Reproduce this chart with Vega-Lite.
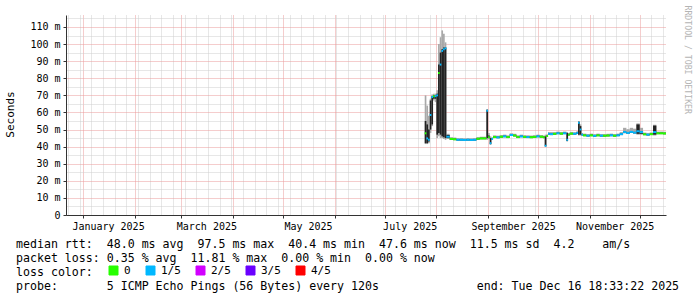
{
  "$schema": "https://vega.github.io/schema/vega-lite/v6.json",
  "width": 600,
  "height": 200,
  "autosize": {"type": "none"},
  "padding": {"left": 66, "top": 15, "right": 31, "bottom": 82},
  "background": "#ffffff",
  "config": {"view": {"stroke": null}, "axis": {"gridDash": [1, 1], "gridCap": "butt"}},
  "title": {
    "text": [
      "median rtt:\u00a0\u00a048.0 ms avg\u00a0\u00a097.5 ms max\u00a0\u00a040.4 ms min\u00a0\u00a047.6 ms now\u00a0\u00a011.5 ms sd\u00a0\u00a04.2\u00a0\u00a0\u00a0\u00a0am/s",
      "packet loss: 0.35 % avg\u00a0\u00a011.81 % max\u00a0\u00a00.00 % min\u00a0\u00a00.00 % now",
      "loss color:",
      "probe:\u00a0\u00a0\u00a0\u00a0\u00a0\u00a0\u00a05 ICMP Echo Pings (56 Bytes) every 120s\u00a0\u00a0\u00a0\u00a0\u00a0\u00a0\u00a0\u00a0\u00a0\u00a0\u00a0\u00a0\u00a0\u00a0end: Tue Dec 16 18:33:22 2025"
    ],
    "orient": "bottom",
    "anchor": "start",
    "frame": "group",
    "dx": -50,
    "dy": -42,
    "offset": 4,
    "lineHeight": 14,
    "font": "DejaVu Sans Mono",
    "fontSize": 11.6,
    "fontWeight": "normal",
    "color": "#000000"
  },
  "data": {
    "values": [
      {"t":"2025-07-25T00:00:00","t2":"2025-07-26T00:00:00","med":47.8,"loss":"0","lo":41.5,"hi":70,"dlo":42,"dhi":55},
      {"t":"2025-07-26T00:00:00","t2":"2025-07-27T00:00:00","med":44.8,"loss":"1/5","lo":41.5,"hi":64,"dlo":42,"dhi":53},
      {"t":"2025-07-27T00:00:00","t2":"2025-07-28T00:00:00","med":44,"loss":"1/5","lo":42,"hi":58,"dlo":43,"dhi":50},
      {"t":"2025-07-28T00:00:00","t2":"2025-07-29T00:00:00","med":58.5,"loss":"1/5","lo":48,"hi":68,"dlo":50,"dhi":67},
      {"t":"2025-07-29T00:00:00","t2":"2025-07-30T00:00:00","med":69,"loss":"1/5","lo":52,"hi":70.5,"dlo":53,"dhi":69.5},
      {"t":"2025-07-30T00:00:00","t2":"2025-07-31T00:00:00","med":69.5,"loss":"0","lo":67,"hi":71,"dlo":68,"dhi":70},
      {"t":"2025-07-31T00:00:00","t2":"2025-08-01T00:00:00","med":69.5,"loss":"1/5","lo":66,"hi":71,"dlo":68,"dhi":70},
      {"t":"2025-08-01T00:00:00","t2":"2025-08-02T00:00:00","med":70,"loss":"1/5","lo":45,"hi":73,"dlo":47,"dhi":71},
      {"t":"2025-08-02T00:00:00","t2":"2025-08-03T00:00:00","med":83,"loss":"0","lo":46,"hi":100,"dlo":48,"dhi":88},
      {"t":"2025-08-03T00:00:00","t2":"2025-08-04T00:00:00","med":88,"loss":"1/5","lo":45,"hi":104,"dlo":47,"dhi":95},
      {"t":"2025-08-04T00:00:00","t2":"2025-08-05T00:00:00","med":96,"loss":"1/5","lo":45,"hi":108,"dlo":46,"dhi":97},
      {"t":"2025-08-05T00:00:00","t2":"2025-08-06T00:00:00","med":97,"loss":"1/5","lo":44.5,"hi":106,"dlo":45.5,"dhi":98},
      {"t":"2025-08-06T00:00:00","t2":"2025-08-07T00:00:00","med":97.5,"loss":"1/5","lo":44,"hi":101,"dlo":45,"dhi":98},
      {"t":"2025-08-07T00:00:00","t2":"2025-08-09T00:00:00","med":45.8,"loss":"1/5","lo":44.5,"hi":47.5,"dlo":45,"dhi":46.8},
      {"t":"2025-08-09T00:00:00","t2":"2025-08-11T00:00:00","med":44.5,"loss":"0","lo":43.9,"hi":45.5,"dlo":44.1,"dhi":44.9},
      {"t":"2025-08-11T00:00:00","t2":"2025-08-13T00:00:00","med":44.3,"loss":"0","lo":43.7,"hi":45.3,"dlo":43.9,"dhi":44.7},
      {"t":"2025-08-13T00:00:00","t2":"2025-08-15T00:00:00","med":44,"loss":"1/5","lo":43.4,"hi":45,"dlo":43.6,"dhi":44.4},
      {"t":"2025-08-15T00:00:00","t2":"2025-08-17T00:00:00","med":44,"loss":"1/5","lo":43.4,"hi":45,"dlo":43.6,"dhi":44.4},
      {"t":"2025-08-17T00:00:00","t2":"2025-08-19T00:00:00","med":43.9,"loss":"1/5","lo":43.3,"hi":44.9,"dlo":43.5,"dhi":44.3},
      {"t":"2025-08-19T00:00:00","t2":"2025-08-21T00:00:00","med":44,"loss":"1/5","lo":43.4,"hi":45,"dlo":43.6,"dhi":44.4},
      {"t":"2025-08-21T00:00:00","t2":"2025-08-23T00:00:00","med":43.9,"loss":"1/5","lo":43.3,"hi":44.9,"dlo":43.5,"dhi":44.3},
      {"t":"2025-08-23T00:00:00","t2":"2025-08-25T00:00:00","med":44,"loss":"1/5","lo":43.4,"hi":45,"dlo":43.6,"dhi":44.4},
      {"t":"2025-08-25T00:00:00","t2":"2025-08-27T00:00:00","med":44.6,"loss":"0","lo":44,"hi":45.6,"dlo":44.2,"dhi":45},
      {"t":"2025-08-27T00:00:00","t2":"2025-08-29T00:00:00","med":44.8,"loss":"0","lo":44.2,"hi":45.8,"dlo":44.4,"dhi":45.2},
      {"t":"2025-08-29T00:00:00","t2":"2025-08-31T00:00:00","med":44.8,"loss":"0","lo":44.2,"hi":45.8,"dlo":44.4,"dhi":45.2},
      {"t":"2025-08-31T00:00:00","t2":"2025-09-01T00:00:00","med":61,"loss":"1/5","lo":44,"hi":62,"dlo":45,"dhi":61.5},
      {"t":"2025-09-01T00:00:00","t2":"2025-09-02T00:00:00","med":45.5,"loss":"0","lo":44.5,"hi":48,"dlo":45,"dhi":46.5},
      {"t":"2025-09-02T00:00:00","t2":"2025-09-03T00:00:00","med":42,"loss":"1/5","lo":41,"hi":46,"dlo":41.5,"dhi":45},
      {"t":"2025-09-03T00:00:00","t2":"2025-09-04T00:00:00","med":44.5,"loss":"1/5","lo":43.9,"hi":45.5,"dlo":44.1,"dhi":44.9},
      {"t":"2025-09-04T00:00:00","t2":"2025-09-06T00:00:00","med":45.6,"loss":"0","lo":45,"hi":46.6,"dlo":45.2,"dhi":46},
      {"t":"2025-09-06T00:00:00","t2":"2025-09-08T00:00:00","med":45.4,"loss":"1/5","lo":44.8,"hi":46.4,"dlo":45,"dhi":45.8},
      {"t":"2025-09-08T00:00:00","t2":"2025-09-10T00:00:00","med":45.8,"loss":"0","lo":45.2,"hi":46.8,"dlo":45.4,"dhi":46.2},
      {"t":"2025-09-10T00:00:00","t2":"2025-09-12T00:00:00","med":46,"loss":"1/5","lo":45.4,"hi":47,"dlo":45.6,"dhi":46.4},
      {"t":"2025-09-12T00:00:00","t2":"2025-09-14T00:00:00","med":45.6,"loss":"0","lo":45,"hi":46.6,"dlo":45.2,"dhi":46},
      {"t":"2025-09-14T00:00:00","t2":"2025-09-16T00:00:00","med":46.8,"loss":"1/5","lo":46.2,"hi":47.8,"dlo":46.4,"dhi":47.2},
      {"t":"2025-09-16T00:00:00","t2":"2025-09-18T00:00:00","med":46.5,"loss":"0","lo":45.9,"hi":47.5,"dlo":46.1,"dhi":46.9},
      {"t":"2025-09-18T00:00:00","t2":"2025-09-20T00:00:00","med":45.6,"loss":"0","lo":45,"hi":46.6,"dlo":45.2,"dhi":46},
      {"t":"2025-09-20T00:00:00","t2":"2025-09-22T00:00:00","med":46,"loss":"1/5","lo":45.4,"hi":47,"dlo":45.6,"dhi":46.4},
      {"t":"2025-09-22T00:00:00","t2":"2025-09-24T00:00:00","med":45.7,"loss":"0","lo":45.1,"hi":46.7,"dlo":45.3,"dhi":46.1},
      {"t":"2025-09-24T00:00:00","t2":"2025-09-26T00:00:00","med":45.6,"loss":"1/5","lo":45,"hi":46.6,"dlo":45.2,"dhi":46},
      {"t":"2025-09-26T00:00:00","t2":"2025-09-28T00:00:00","med":45.5,"loss":"0","lo":44.9,"hi":46.5,"dlo":45.1,"dhi":45.9},
      {"t":"2025-09-28T00:00:00","t2":"2025-09-30T00:00:00","med":45.7,"loss":"0","lo":45.1,"hi":46.7,"dlo":45.3,"dhi":46.1},
      {"t":"2025-09-30T00:00:00","t2":"2025-10-02T00:00:00","med":46,"loss":"1/5","lo":45.4,"hi":47,"dlo":45.6,"dhi":46.4},
      {"t":"2025-10-02T00:00:00","t2":"2025-10-04T00:00:00","med":45.8,"loss":"0","lo":45.2,"hi":46.8,"dlo":45.4,"dhi":46.2},
      {"t":"2025-10-04T00:00:00","t2":"2025-10-05T00:00:00","med":45.5,"loss":"0","lo":44.9,"hi":46.5,"dlo":45.1,"dhi":45.9},
      {"t":"2025-10-05T00:00:00","t2":"2025-10-06T00:00:00","med":40.5,"loss":"1/5","lo":40,"hi":47,"dlo":40.2,"dhi":46},
      {"t":"2025-10-06T00:00:00","t2":"2025-10-07T00:00:00","med":46.2,"loss":"0","lo":45.6,"hi":47.2,"dlo":45.8,"dhi":46.6},
      {"t":"2025-10-07T00:00:00","t2":"2025-10-08T00:00:00","med":47.5,"loss":"1/5","lo":46.9,"hi":48.5,"dlo":47.1,"dhi":47.9},
      {"t":"2025-10-08T00:00:00","t2":"2025-10-10T00:00:00","med":47.3,"loss":"1/5","lo":46.7,"hi":48.5,"dlo":46.9,"dhi":47.7},
      {"t":"2025-10-10T00:00:00","t2":"2025-10-12T00:00:00","med":47.5,"loss":"0","lo":46.9,"hi":48.5,"dlo":47.1,"dhi":47.9},
      {"t":"2025-10-12T00:00:00","t2":"2025-10-14T00:00:00","med":47.8,"loss":"1/5","lo":47.2,"hi":48.8,"dlo":47.4,"dhi":48.2},
      {"t":"2025-10-14T00:00:00","t2":"2025-10-16T00:00:00","med":47.6,"loss":"0","lo":47,"hi":48.6,"dlo":47.2,"dhi":48},
      {"t":"2025-10-16T00:00:00","t2":"2025-10-18T00:00:00","med":47.8,"loss":"1/5","lo":47.2,"hi":48.8,"dlo":47.4,"dhi":48.2},
      {"t":"2025-10-18T00:00:00","t2":"2025-10-19T00:00:00","med":44,"loss":"1/5","lo":43,"hi":48.5,"dlo":43.3,"dhi":48},
      {"t":"2025-10-19T00:00:00","t2":"2025-10-20T00:00:00","med":47,"loss":"0","lo":46.4,"hi":48,"dlo":46.6,"dhi":47.4},
      {"t":"2025-10-20T00:00:00","t2":"2025-10-22T00:00:00","med":47.6,"loss":"0","lo":47,"hi":48.6,"dlo":47.2,"dhi":48},
      {"t":"2025-10-22T00:00:00","t2":"2025-10-24T00:00:00","med":47.5,"loss":"1/5","lo":46.9,"hi":48.5,"dlo":47.1,"dhi":47.9},
      {"t":"2025-10-24T00:00:00","t2":"2025-10-25T00:00:00","med":48,"loss":"1/5","lo":47.4,"hi":49,"dlo":47.6,"dhi":48.4},
      {"t":"2025-10-25T00:00:00","t2":"2025-10-26T00:00:00","med":54,"loss":"1/5","lo":46.5,"hi":55,"dlo":47,"dhi":54.5},
      {"t":"2025-10-26T00:00:00","t2":"2025-10-27T00:00:00","med":50,"loss":"1/5","lo":46.5,"hi":53,"dlo":47,"dhi":52},
      {"t":"2025-10-27T00:00:00","t2":"2025-10-28T00:00:00","med":47,"loss":"1/5","lo":46.4,"hi":48,"dlo":46.6,"dhi":47.4},
      {"t":"2025-10-28T00:00:00","t2":"2025-10-30T00:00:00","med":46.6,"loss":"0","lo":46,"hi":47.6,"dlo":46.2,"dhi":47},
      {"t":"2025-10-30T00:00:00","t2":"2025-11-01T00:00:00","med":46.4,"loss":"1/5","lo":45.8,"hi":47.4,"dlo":46,"dhi":46.8},
      {"t":"2025-11-01T00:00:00","t2":"2025-11-03T00:00:00","med":46.6,"loss":"0","lo":46,"hi":47.6,"dlo":46.2,"dhi":47},
      {"t":"2025-11-03T00:00:00","t2":"2025-11-05T00:00:00","med":46.3,"loss":"1/5","lo":45.7,"hi":47.3,"dlo":45.9,"dhi":46.7},
      {"t":"2025-11-05T00:00:00","t2":"2025-11-07T00:00:00","med":46.6,"loss":"0","lo":46,"hi":47.6,"dlo":46.2,"dhi":47},
      {"t":"2025-11-07T00:00:00","t2":"2025-11-09T00:00:00","med":46.4,"loss":"1/5","lo":45.8,"hi":47.4,"dlo":46,"dhi":46.8},
      {"t":"2025-11-09T00:00:00","t2":"2025-11-11T00:00:00","med":46.4,"loss":"0","lo":45.8,"hi":47.4,"dlo":46,"dhi":46.8},
      {"t":"2025-11-11T00:00:00","t2":"2025-11-13T00:00:00","med":46.5,"loss":"0","lo":45.9,"hi":47.5,"dlo":46.1,"dhi":46.9},
      {"t":"2025-11-13T00:00:00","t2":"2025-11-15T00:00:00","med":46.6,"loss":"1/5","lo":46,"hi":47.6,"dlo":46.2,"dhi":47},
      {"t":"2025-11-15T00:00:00","t2":"2025-11-17T00:00:00","med":46.4,"loss":"0","lo":45.8,"hi":47.4,"dlo":46,"dhi":46.8},
      {"t":"2025-11-17T00:00:00","t2":"2025-11-19T00:00:00","med":46.6,"loss":"1/5","lo":46,"hi":47.6,"dlo":46.2,"dhi":47},
      {"t":"2025-11-19T00:00:00","t2":"2025-11-21T00:00:00","med":47.3,"loss":"1/5","lo":46.7,"hi":48.5,"dlo":46.9,"dhi":47.7},
      {"t":"2025-11-21T00:00:00","t2":"2025-11-23T00:00:00","med":48.5,"loss":"1/5","lo":47.8,"hi":51,"dlo":48.1,"dhi":48.9},
      {"t":"2025-11-23T00:00:00","t2":"2025-11-25T00:00:00","med":48,"loss":"1/5","lo":47.4,"hi":50.2,"dlo":47.6,"dhi":48.4},
      {"t":"2025-11-25T00:00:00","t2":"2025-11-27T00:00:00","med":48.6,"loss":"1/5","lo":48,"hi":51,"dlo":48.2,"dhi":49},
      {"t":"2025-11-27T00:00:00","t2":"2025-11-29T00:00:00","med":48.2,"loss":"1/5","lo":47.6,"hi":50.5,"dlo":47.8,"dhi":48.6},
      {"t":"2025-11-29T00:00:00","t2":"2025-12-01T00:00:00","med":49,"loss":"1/5","lo":47,"hi":53.6,"dlo":47.5,"dhi":53},
      {"t":"2025-12-01T00:00:00","t2":"2025-12-03T00:00:00","med":48.5,"loss":"1/5","lo":47,"hi":51,"dlo":47.5,"dhi":49},
      {"t":"2025-12-03T00:00:00","t2":"2025-12-05T00:00:00","med":47.2,"loss":"0","lo":46.6,"hi":48.2,"dlo":46.8,"dhi":47.6},
      {"t":"2025-12-05T00:00:00","t2":"2025-12-07T00:00:00","med":47,"loss":"1/5","lo":46.4,"hi":48,"dlo":46.6,"dhi":47.4},
      {"t":"2025-12-07T00:00:00","t2":"2025-12-09T00:00:00","med":47.3,"loss":"0","lo":46.7,"hi":48.3,"dlo":46.9,"dhi":47.7},
      {"t":"2025-12-09T00:00:00","t2":"2025-12-11T00:00:00","med":48.5,"loss":"1/5","lo":46.5,"hi":52.8,"dlo":47,"dhi":52.3},
      {"t":"2025-12-11T00:00:00","t2":"2025-12-13T00:00:00","med":47.8,"loss":"0","lo":47.2,"hi":48.8,"dlo":47.4,"dhi":48.2},
      {"t":"2025-12-13T00:00:00","t2":"2025-12-15T00:00:00","med":47.8,"loss":"0","lo":47.2,"hi":48.8,"dlo":47.4,"dhi":48.2},
      {"t":"2025-12-15T00:00:00","t2":"2025-12-17T00:00:00","med":47.7,"loss":"0","lo":47.1,"hi":48.7,"dlo":47.3,"dhi":48.1}
    ]
  },
  "resolve": {"axis": {"y": "independent"}},
  "layer": [
    {
      "mark": {"type": "rect", "color": "#a8a8a8", "clip": true},
      "encoding": {
        "x": {
          "field": "t", "type": "temporal",
          "scale": {"domain": [
            {"year": 2024, "month": 12, "date": 21, "hours": 18, "minutes": 33, "seconds": 22},
            {"year": 2025, "month": 12, "date": 16, "hours": 18, "minutes": 33, "seconds": 22}
          ]},
          "axis": {
            "title": null,
            "tickCount": {"interval": "day", "step": 1},
            "labelExpr": "date(datum.value) == 1 && month(datum.value) % 2 == 0 ? timeFormat(datum.value, '%B %Y') : ''",
            "labelOverlap": false,
            "labelBound": false,
            "labelFlush": false,
            "labelOffset": 25,
            "labelAlign": "center",
            "labelBaseline": "top",
            "labelPadding": 3,
            "labelFont": "DejaVu Sans Mono",
            "labelFontSize": 10,
            "labelColor": "#000000",
            "tickSize": 3,
            "tickColor": "#333333",
            "tickOpacity": {"condition": {"test": "date(datum.value) == 1", "value": 1}, "value": 0},
            "domainColor": "#333333",
            "grid": true,
            "gridDash": [1, 1],
            "gridCap": "butt",
            "gridWidth": 1,
            "gridColor": {"condition": {"test": "date(datum.value) == 1", "value": "#eb9b9b"}, "value": "#cfcfcf"},
            "gridOpacity": {"condition": {"test": "date(datum.value) == 1 || day(datum.value) == 1", "value": 1}, "value": 0}
          }
        },
        "x2": {"field": "t2"},
        "y": {
          "field": "lo", "type": "quantitative",
          "scale": {"domain": [0, 117], "nice": false},
          "axis": {
            "title": "Seconds",
            "titleFont": "DejaVu Sans Mono",
            "titleFontSize": 11,
            "titleFontWeight": "normal",
            "titleColor": "#000000",
            "titleX": -56,
            "titleY": 99,
            "titleAngle": 270,
            "titleAlign": "center",
            "titleBaseline": "middle",
            "values": [0, 5, 10, 15, 20, 25, 30, 35, 40, 45, 50, 55, 60, 65, 70, 75, 80, 85, 90, 95, 100, 105, 110, 115],
            "labelExpr": "datum.value % 10 == 0 ? (datum.value == 0 ? '0' : datum.value + ' m') : ''",
            "labelFont": "DejaVu Sans Mono",
            "labelFontSize": 10,
            "labelColor": "#000000",
            "labelPadding": 3,
            "labelOverlap": false,
            "labelBound": false,
            "labelFlush": false,
            "tickSize": 3,
            "tickColor": "#333333",
            "tickOpacity": {"condition": {"test": "datum.value % 10 == 0", "value": 1}, "value": 0},
            "domainColor": "#333333",
            "grid": true,
            "gridDash": [1, 1],
            "gridCap": "butt",
            "gridWidth": 1,
            "gridColor": {"condition": {"test": "datum.value % 10 == 0", "value": "#eb9b9b"}, "value": "#cfcfcf"}
          }
        },
        "y2": {"field": "hi"}
      }
    },
    {
      "mark": {"type": "rect", "color": "#222222", "clip": true},
      "encoding": {
        "x": {"field": "t", "type": "temporal"},
        "x2": {"field": "t2"},
        "y": {"field": "dlo", "type": "quantitative", "axis": null},
        "y2": {"field": "dhi"}
      }
    },
    {
      "mark": {"type": "rule", "strokeWidth": 2, "strokeCap": "butt", "clip": true},
      "encoding": {
        "x": {"field": "t", "type": "temporal"},
        "x2": {"field": "t2"},
        "y": {
          "field": "med", "type": "quantitative",
          "axis": {
            "orient": "right",
            "title": "RRDTOOL / TOBI OETIKER",
            "titleFont": "DejaVu Sans Mono",
            "titleFontSize": 8.2,
            "titleFontWeight": "normal",
            "titleColor": "#b4b4b4",
            "titleAngle": 90,
            "titleAlign": "left",
            "titleBaseline": "middle",
            "titleX": 20,
            "titleY": -10,
            "labels": false,
            "ticks": false,
            "domain": false,
            "grid": false
          }
        },
        "color": {
          "field": "loss", "type": "nominal",
          "scale": {"domain": ["0", "1/5", "2/5", "3/5", "4/5"], "range": ["#26ff00", "#00b8ff", "#d200ff", "#6a00ff", "#ff0000"]},
          "legend": {
            "orient": "none",
            "legendX": 42,
            "legendY": 250,
            "direction": "horizontal",
            "title": null,
            "padding": 0,
            "symbolType": "square",
            "symbolSize": 81,
            "symbolStrokeWidth": 1,
            "labelFont": "DejaVu Sans Mono",
            "labelFontSize": 11,
            "labelColor": "#000000",
            "labelOffset": 5,
            "columnPadding": 13,
            "encode": {
              "symbols": {
                "update": {
                  "fill": {"scale": "color", "field": "value"},
                  "stroke": {"value": "#000000"},
                  "strokeWidth": {"value": 1},
                  "opacity": {"value": 1},
                  "fillOpacity": {"value": 1}
                }
              }
            }
          }
        }
      }
    }
  ]
}
